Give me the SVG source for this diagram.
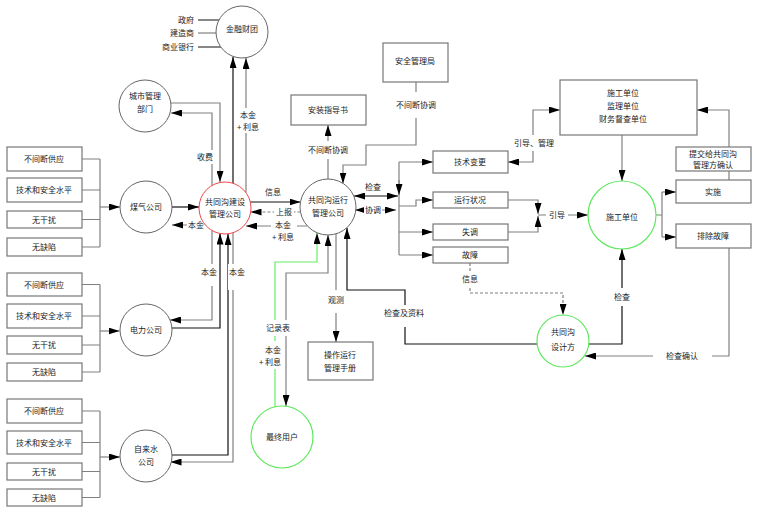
<svg xmlns="http://www.w3.org/2000/svg" width="760" height="516" viewBox="0 0 760 516">
<defs>
<marker id="a" viewBox="0 0 12 8" refX="12" refY="4" markerWidth="11" markerHeight="7" markerUnits="userSpaceOnUse" orient="auto-start-reverse" preserveAspectRatio="none"><path d="M0,0L12,4L0,8z" fill="#000"/></marker>
</defs>
<style>
text{font-family:"Noto Sans CJK SC","Noto Sans",sans-serif;font-size:8px;fill:#222;text-anchor:middle}
.box{fill:#fff;stroke:#777;stroke-width:1.2}
.c{fill:#fff;stroke:#666;stroke-width:1}
.red{stroke:#f04848}
.grn{stroke:#5fe85f;stroke-width:1.2}
.ln{fill:none;stroke:#808080;stroke-width:1.2}
.dk{stroke:#111}
.gl{stroke:#66ee66}
.ds{stroke-dasharray:3 2}
.ar{marker-end:url(#a)}
.ar2{marker-start:url(#a);marker-end:url(#a)}
.bg{fill:#fff}
</style>
<rect width="760" height="516" fill="#fff"/>
<g id="connectors">
<path class="ln" d="M82,159H100M82,190H100M82,219.5H100M82,247H100M100,159V247"/>
<path class="ln ar" d="M100,207H120"/>
<path class="ln" d="M82,284.5H100M82,316H100M82,345H100M82,372H100M100,284.5V372"/>
<path class="ln ar" d="M100,331H119.5"/>
<path class="ln" d="M82,411H100M82,442.5H100M82,471.5H100M82,497.5H100M100,411V497.5"/>
<path class="ln ar" d="M100,457H120"/>
<path class="ln dk ar" d="M172,207H199"/>
<path class="ln ar" d="M205,225H172"/>
<path class="ln ar" d="M171,103H220V182"/>
<path class="ln ar" d="M212,185.5V113H171"/>
<path class="ln dk ar" d="M233,183V57"/>
<path class="ln ar" d="M246,192.7V58"/>
<path class="ln dk" d="M198,20H219M198,47H221"/>
<path class="ln" d="M198,33H216"/>
<path class="ln dk ar" d="M171.5,328H220V233.5"/>
<path class="ln ar" d="M212,230.5V320H170"/>
<path class="ln dk ar" d="M171,455H228V234"/>
<path class="ln ar" d="M233,232.7V462H170.5"/>
<path class="ln dk ar" d="M250,202H300.5"/>
<path class="ln ds ar" d="M300.5,212H250.5"/>
<path class="ln ar" d="M307,226H246"/>
<path class="ln ar" d="M328,179V125"/>
<path class="ln ar" d="M416,82V145H366V165H343V183.5"/>
<path class="ln dk ar2" d="M354,196H398"/>
<path class="ln ar2" d="M355,210H396"/>
<path class="ln" d="M399,162V255"/>
<path class="ln ar" d="M399,180V195"/>
<path class="ln ar" d="M399,162H433"/>
<path class="ln ar" d="M399,206H416V200H433"/>
<path class="ln ar" d="M399,232H433"/>
<path class="ln ar" d="M399,255H433"/>
<path class="ln ar" d="M508,200H538V214"/>
<path class="ln ar" d="M508,232H538V216"/>
<path class="ln ar" d="M538,215H588"/>
<path class="ln ar2" d="M508,162H533V110H560"/>
<path class="ln ar" d="M622,135V181"/>
<path class="ln" d="M656,215H662M662,192V237"/>
<path class="ln ar" d="M662,192H676"/>
<path class="ln ar" d="M662,237H676"/>
<path class="ln ar" d="M729,180V110H697"/>
<path class="ln ar" d="M729,248V356H585"/>
<path class="ln dk ar" d="M589,344H622V249"/>
<path class="ln ds ar" d="M470,263V293H563V315"/>
<path class="ln dk ar" d="M537,344H405V290H347V228"/>
<path class="ln ar" d="M336,234V342"/>
<path class="ln gl ar" d="M275,406.8V262H317V233"/>
<path class="ln ar2" d="M328,235V273H286V406"/>
</g>
<g id="labels">
<rect class="bg" x="196" y="150" width="18" height="14"/><text x="205" y="160">收费</text>
<rect class="bg" x="236" y="108" width="24" height="25"/><text x="248" y="118">本金</text><text x="248" y="130">+ 利息</text>
<rect class="bg" x="187" y="219" width="18" height="12"/><text x="196" y="228">本金</text>
<rect class="bg" x="200" y="264" width="18" height="22"/><text x="209" y="275">本金</text>
<rect class="bg" x="228" y="264" width="18" height="26"/><text x="237" y="275">本金</text>
<text x="273" y="195">信息</text>
<rect class="bg" x="274" y="206" width="20" height="12"/><text x="284" y="215">上报</text>
<rect class="bg" x="271" y="219" width="26" height="12"/><text x="283" y="228">本金</text><text x="283" y="240">+ 利息</text>
<rect class="bg" x="307" y="141" width="42" height="18"/><text x="328" y="153">不间断协调</text>
<rect class="bg" x="395" y="92" width="42" height="26"/><text x="416" y="108">不间断协调</text>
<text x="373" y="190">检查</text>
<rect class="bg" x="364" y="204" width="18" height="12"/><text x="373" y="213">协调</text>
<rect class="bg" x="512" y="135" width="44" height="16"/><text x="534" y="146">引导、管理</text>
<rect class="bg" x="546" y="209" width="22" height="12"/><text x="557" y="218">引导</text>
<rect class="bg" x="461" y="271" width="18" height="16"/><text x="470" y="282">信息</text>
<rect class="bg" x="612" y="288" width="20" height="18"/><text x="622" y="300">检查</text>
<rect class="bg" x="653" y="350" width="59" height="12"/><text x="682" y="359">检查确认</text>
<rect class="bg" x="381" y="305" width="46" height="22"/><text x="404" y="316">检查及资料</text>
<rect class="bg" x="326" y="290" width="20" height="23"/><text x="336" y="303">观测</text>
<rect class="bg" x="264" y="320" width="28" height="16"/><text x="278" y="331">记录表</text>
<rect class="bg" x="260" y="341" width="24" height="28"/><text x="273" y="353">本金</text><text x="270" y="365">+ 利息</text>
<text x="194" y="23" style="text-anchor:end">政府</text>
<text x="194" y="36" style="text-anchor:end">建造商</text>
<text x="194" y="50" style="text-anchor:end">商业银行</text>
</g>
<g id="gas-reqs">
<rect class="box" x="7" y="147" width="75" height="24"/><text x="44" y="162">不间断供应</text>
<rect class="box" x="7" y="178" width="75" height="24"/><text x="44" y="193">技术和安全水平</text>
<rect class="box" x="7" y="211" width="75" height="17"/><text x="44" y="222.5">无干扰</text>
<rect class="box" x="7" y="238" width="75" height="18"/><text x="44" y="250">无缺陷</text>
</g>
<g id="power-reqs">
<rect class="box" x="7" y="273" width="75" height="23"/><text x="44" y="287.5">不间断供应</text>
<rect class="box" x="7" y="304" width="75" height="24"/><text x="44" y="319">技术和安全水平</text>
<rect class="box" x="7" y="336" width="75" height="18"/><text x="44" y="348">无干扰</text>
<rect class="box" x="7" y="363" width="75" height="18"/><text x="44" y="375">无缺陷</text>
</g>
<g id="water-reqs">
<rect class="box" x="7" y="399" width="75" height="24"/><text x="44" y="414">不间断供应</text>
<rect class="box" x="7" y="431" width="75" height="23"/><text x="44" y="445.5">技术和安全水平</text>
<rect class="box" x="7" y="463" width="75" height="17"/><text x="44" y="474.5">无干扰</text>
<rect class="box" x="7" y="489" width="75" height="17"/><text x="44" y="500.5">无缺陷</text>
</g>
<g id="gas"><circle class="c" cx="146" cy="207" r="26"/><text x="146" y="210">煤气公司</text></g>
<g id="power"><circle class="c" cx="146" cy="330" r="26"/><text x="146" y="333">电力公司</text></g>
<g id="water"><circle class="c" cx="146" cy="456" r="26"/><text x="146" y="452">自来水</text><text x="146" y="465">公司</text></g>
<g id="city"><circle class="c" cx="145" cy="106" r="26"/><text x="145" y="99">城市管理</text><text x="145" y="112">部门</text></g>
<g id="finance"><circle class="c" cx="242" cy="32" r="26"/><text x="242" y="32">金融财团</text></g>
<g id="construction"><circle class="c red" cx="225" cy="208" r="26"/><text x="225" y="205">共同沟建设</text><text x="225" y="217">管理公司</text></g>
<g id="operation"><circle class="c" cx="328" cy="207" r="28"/><text x="328" y="203">共同沟运行</text><text x="328" y="216">管理公司</text></g>
<g id="guide"><rect class="box" x="291" y="95" width="75" height="30"/><text x="328" y="113">安装指导书</text></g>
<g id="safety"><rect class="box" x="383" y="43" width="65" height="39"/><text x="415" y="64">安全管理局</text></g>
<g id="techchange"><rect class="box" x="433" y="151" width="75" height="22"/><text x="470" y="165">技术变更</text></g>
<g id="status"><rect class="box" x="433" y="192" width="75" height="16"/><text x="470" y="203">运行状况</text></g>
<g id="imbalance"><rect class="box" x="433" y="224" width="75" height="16"/><text x="470" y="235">失调</text></g>
<g id="fault"><rect class="box" x="433" y="247" width="75" height="16"/><text x="470" y="258">故障</text></g>
<g id="units"><rect class="box" x="560" y="80" width="137" height="55"/><text x="623" y="96">施工单位</text><text x="623" y="109">监理单位</text><text x="623" y="122">财务督查单位</text></g>
<g id="contractor"><circle class="c grn" cx="622" cy="215" r="34"/><text x="622" y="220">施工单位</text></g>
<g id="submit"><rect class="box" x="676" y="147" width="75" height="24"/><text x="713" y="157">提交给共同沟</text><text x="713" y="168">管理方确认</text></g>
<g id="implement"><rect class="box" x="676" y="180" width="75" height="23"/><text x="713" y="195">实施</text></g>
<g id="clear"><rect class="box" x="676" y="224" width="75" height="24"/><text x="713" y="239">排除故障</text></g>
<g id="designer"><circle class="c grn" cx="563" cy="341" r="26"/><text x="563" y="335">共同沟</text><text x="563" y="350">设计方</text></g>
<g id="manual"><rect class="box" x="308" y="342" width="65" height="38"/><text x="340" y="358">操作运行</text><text x="340" y="371">管理手册</text></g>
<g id="user"><circle class="c grn" cx="282" cy="437" r="31"/><text x="282" y="440">最终用户</text></g>
</svg>
